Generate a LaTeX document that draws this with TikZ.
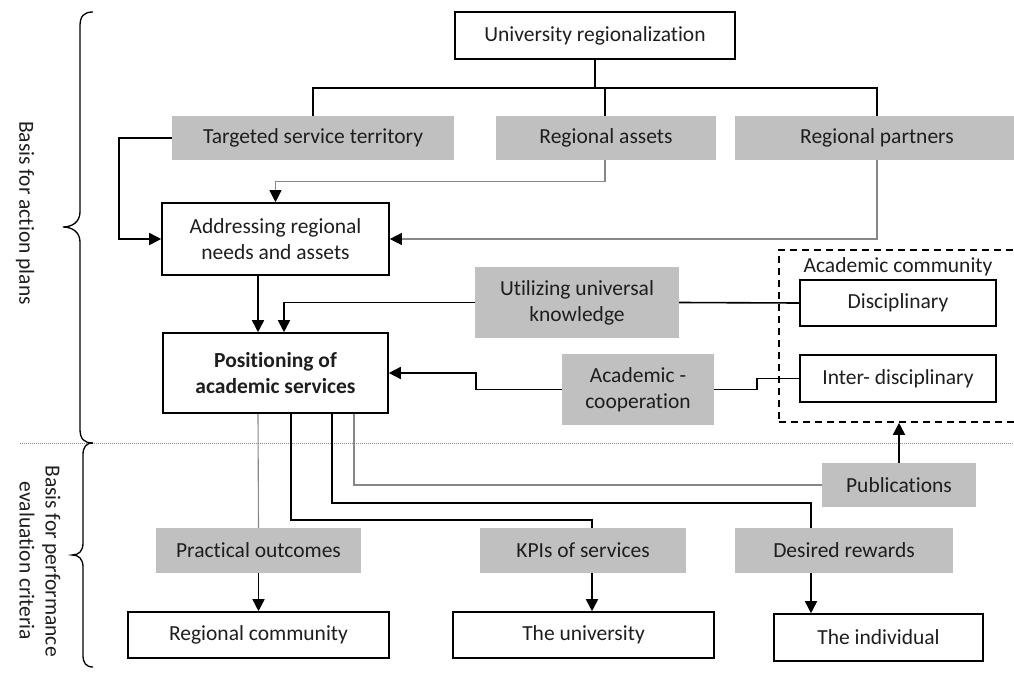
\documentclass[tikz,border=0pt]{standalone}
\usepackage{fontspec}
\setmainfont{Carlito}[Ligatures=NoCommon]
\usetikzlibrary{arrows.meta}
\definecolor{boxgray}{RGB}{192,192,192}
\definecolor{linegray}{RGB}{135,135,135}
\definecolor{txt}{RGB}{30,30,30}
\begin{document}
\begin{tikzpicture}[x=1pt,y=-1pt,
  every node/.style={font=\fontsize{21.5}{26}\selectfont, text=txt, inner sep=0pt, align=center},
  wbox/.style={draw=black, line width=1.6pt, fill=white},
  gbox/.style={fill=boxgray},
  ln/.style={line width=1.6pt, draw=black},
  gln/.style={line width=1.1pt, draw=linegray},
  arr/.style={ln, -{Triangle[length=12pt,width=12pt]}},
  garr/.style={gln, -{Triangle[length=12pt,width=12pt,black]}},
  brc/.style={line width=1.3pt, draw=black},
]
\useasboundingbox (0,0) rectangle (1014,674);

% dotted separator
\coordinate (dl) at (20,443);
\coordinate (dr) at (1014,443);
\draw[linegray, line width=0.9pt, dash pattern=on 1pt off 1pt] (dl) -- (dr);

% braces
\draw[brc] (93,12) .. controls (84,12) and (80,16) .. (80,26) -- (80,212)
  .. controls (80,222) and (72,227) .. (63,227) .. controls (72,227) and (80,232) .. (80,242)
  -- (80,429) .. controls (80,439) and (84,443) .. (93,443);
\draw[brc] (93,443) .. controls (86,443) and (83,447) .. (83,455) -- (83,543)
  .. controls (83,551) and (79,555) .. (72,555) .. controls (79,555) and (83,559) .. (83,567)
  -- (83,655) .. controls (83,663) and (86,667) .. (93,667);

\node[rotate=-90] (lab1) at (25,213) {Basis for action plans};
\node[rotate=-90] (lab2) at (40,561) {Basis for performance\\evaluation criteria};

% academic community dashed frame
\node[draw=black, line width=1.6pt, dash pattern=on 7pt off 5pt, minimum width=241pt, minimum height=172pt] (comm) at (899.5,336) {};
\node (commlbl) at (898,267) {Academic community};

% nodes
\node[wbox, minimum width=280pt, minimum height=47pt] (ureg) at (595,35.5) {University regionalization};
\node[gbox, minimum width=282pt, minimum height=44pt] (tst) at (313,138) {Targeted service territory};
\node[gbox, minimum width=220pt, minimum height=44pt] (ra) at (606,138) {Regional assets};
\node[gbox, minimum width=284pt, minimum height=44pt] (rp) at (877,138) {Regional partners};
\node[wbox, minimum width=227pt, minimum height=72pt] (addr) at (275.5,239) {Addressing regional\\needs and assets};
\node[gbox, minimum width=204pt, minimum height=71pt] (util) at (577,302.5) {Utilizing universal\\knowledge};
\node[wbox, minimum width=225pt, minimum height=80pt, font=\fontsize{21.5}{26}\selectfont\bfseries] (pos) at (275.5,373) {Positioning of\\academic services};
\node[gbox, minimum width=152pt, minimum height=71pt] (acad) at (638,389.5) {Academic -\\cooperation};
\node[wbox, minimum width=196pt, minimum height=46pt] (disc) at (898,303) {Disciplinary};
\node[wbox, minimum width=196pt, minimum height=47pt] (inter) at (898,378.5) {Inter- disciplinary};
\node[gbox, minimum width=154pt, minimum height=44pt] (pub) at (899,485) {Publications};
\node[gbox, minimum width=205pt, minimum height=45pt] (prac) at (258.5,550.5) {Practical outcomes};
\node[gbox, minimum width=206pt, minimum height=45pt] (kpi) at (583,550.5) {KPIs of services};
\node[gbox, minimum width=218pt, minimum height=45pt] (des) at (844,550.5) {Desired rewards};
\node[wbox, minimum width=261pt, minimum height=46pt] (regc) at (258.5,635) {Regional community};
\node[wbox, minimum width=261pt, minimum height=46pt] (univ) at (583.5,635) {The university};
\node[wbox, minimum width=209pt, minimum height=47pt] (indiv) at (878.5,637.5) {The individual};

% connectors
\coordinate (bus) at (595,88);
\draw[ln] (ureg.south) -- (bus);
\draw[ln] (tst.north) |- (bus) -| (rp.north);
\draw[ln] ([xshift=-1pt]ra.north) |- (bus);

\draw[arr] (tst.west) -- ++(-53,0) |- (addr.west);
\draw[garr] ([xshift=-1pt]ra.south) -- ++(0,21) -| (addr.north);
\draw[garr] (rp.south) |- (addr.east);

\draw[arr] ([xshift=-17.5pt]addr.south) -- ([xshift=-17.5pt]pos.north);
\draw[arr] (util.west) -| ([xshift=8.5pt]pos.north);
\draw[ln] (util.east) -- (disc.west);
\draw[arr] (acad.west) -- ++(-86,0) |- (pos.east);
\draw[ln] (acad.east) -- ++(43,0) |- (inter.west);

\draw[gln] ([xshift=-17.5pt]pos.south) -- (prac.north);
\draw[ln] ([xshift=15.5pt]pos.south) -- ++(0,106) -| ([xshift=9pt]kpi.north);
\draw[ln] ([xshift=56.5pt]pos.south) -- ++(0,89) -| ([xshift=-33pt]des.north);
\draw[gln] ([xshift=78.5pt]pos.south) |- (pub.west);

\draw[arr] (pub.north) -- (pub.north |- comm.south);
\draw[arr] (prac.south) -- (regc.north);
\draw[arr] ([xshift=9pt]kpi.south) -- ([xshift=9pt]kpi.south |- univ.north);
\draw[arr] ([xshift=-33pt]des.south) -- ([xshift=-33pt]des.south |- indiv.north);
\end{tikzpicture}
\end{document}
